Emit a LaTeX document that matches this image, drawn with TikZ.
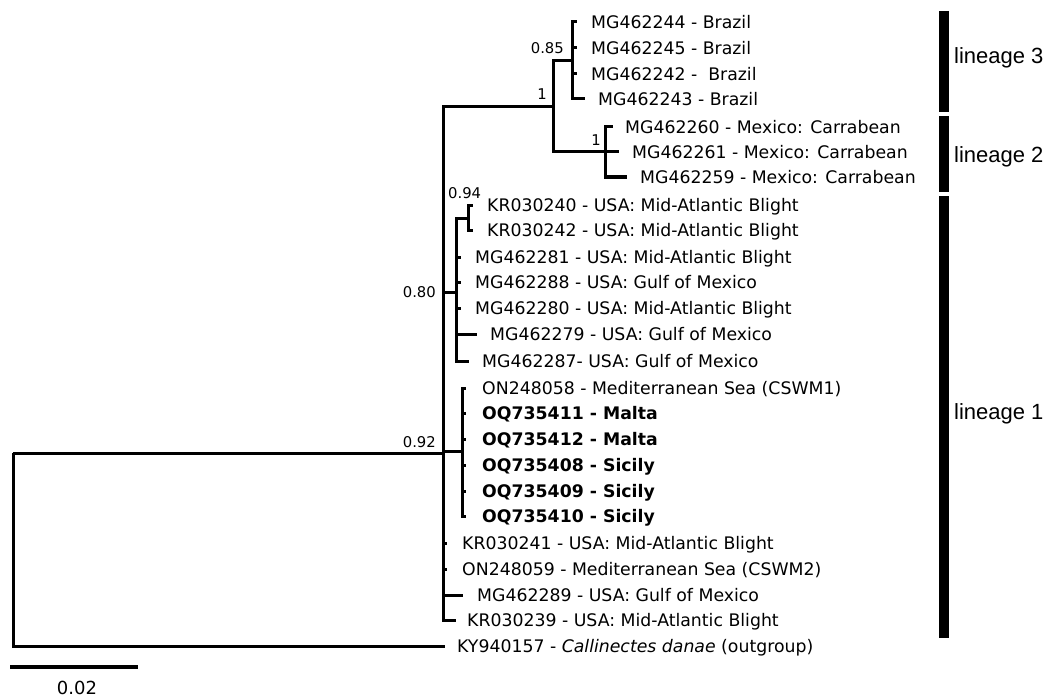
\documentclass[tikz,border=0pt]{standalone}
\usepackage{fontspec}
\setmainfont{DejaVu Sans}
\newfontfamily\arialf{Liberation Sans}
\begin{document}
\begin{tikzpicture}[x=1pt,y=-1pt,
  br/.style={line width=3pt,line join=miter,line cap=butt},
  leaflab/.style={anchor=west,inner sep=0pt,font=\fontsize{17.3}{20}\selectfont,text height=12.6pt,text depth=0pt},
  supp/.style={inner sep=0pt,font=\fontsize{14.8}{17}\selectfont,text height=10.8pt,text depth=0pt},
  linbar/.style={line width=10pt},
  linlab/.style={anchor=west,inner sep=0pt,font=\arialf\fontsize{22}{26}\selectfont,text height=15.8pt,text depth=0pt}]
\path[use as bounding box] (0,0) rectangle (1047,698);
\newcommand\tipleaf[6]{%
  \coordinate (#1) at (#4,#3);
  \node[leaflab] (#1l) at (#5,#3) {#6};
  \draw[br] (#2) |- (#1);}
% internal nodes
\coordinate (root) at (13,453);
\coordinate (n092) at (443,453);
\coordinate (nA) at (553,107);
\coordinate (nL3) at (572,61);
\coordinate (nL2) at (605,152);
\coordinate (n080) at (456,292);
\coordinate (n094) at (468,218);
\coordinate (nMed) at (462,451);
\coordinate (og) at (445,646);
% internal branches
\draw[br] (root) -- (n092);
\draw[br] (root) |- (og);
\draw[br] (n092) |- (nA);
\draw[br] (nA) |- (nL3);
\draw[br] (nA) |- (nL2);
\draw[br] (n092) |- (n080);
\draw[br] (n080) |- (n094);
\draw[br] (n092) |- (nMed);
% lineage 3
\tipleaf{t1}{nL3}{22}{577}{591}{MG462244 - Brazil}
\tipleaf{t2}{nL3}{48}{577}{591}{MG462245 - Brazil}
\tipleaf{t3}{nL3}{74}{577}{591}{MG462242 - ~Brazil}
\tipleaf{t4}{nL3}{99}{585}{598}{MG462243 - Brazil}
% lineage 2
\tipleaf{t5}{nL2}{127}{613}{625}{MG462260 - Mexico: Carrabean}
\tipleaf{t6}{nL2}{152}{619}{632}{MG462261 - Mexico: Carrabean}
\tipleaf{t7}{nL2}{177}{627}{640}{MG462259 - Mexico: Carrabean}
% 0.80 clade
\tipleaf{t8}{n094}{205}{473}{487}{KR030240 - USA: Mid-Atlantic Blight}
\tipleaf{t9}{n094}{230}{473}{487}{KR030242 - USA: Mid-Atlantic Blight}
\tipleaf{t10}{n080}{257}{461}{475}{MG462281 - USA: Mid-Atlantic Blight}
\tipleaf{t11}{n080}{282}{461}{475}{MG462288 - USA: Gulf of Mexico}
\tipleaf{t12}{n080}{308}{461}{475}{MG462280 - USA: Mid-Atlantic Blight}
\tipleaf{t13}{n080}{334}{477}{490}{MG462279 - USA: Gulf of Mexico}
\tipleaf{t14}{n080}{361}{469}{482}{MG462287- USA: Gulf of Mexico}
% Mediterranean clade
\tipleaf{t15}{nMed}{388}{466}{482}{ON248058 - Mediterranean Sea (CSWM1)}
\tipleaf{t16}{nMed}{413}{466}{482}{\textbf{OQ735411 - Malta}}
\tipleaf{t17}{nMed}{439}{466}{482}{\textbf{OQ735412 - Malta}}
\tipleaf{t18}{nMed}{465}{466}{482}{\textbf{OQ735408 - Sicily}}
\tipleaf{t19}{nMed}{491}{466}{482}{\textbf{OQ735409 - Sicily}}
\tipleaf{t20}{nMed}{516}{466}{482}{\textbf{OQ735410 - Sicily}}
% direct leaves
\tipleaf{t21}{n092}{543}{447}{462}{KR030241 - USA: Mid-Atlantic Blight}
\tipleaf{t22}{n092}{569}{447}{462}{ON248059 - Mediterranean Sea (CSWM2)}
\tipleaf{t23}{n092}{595}{463}{477}{MG462289 - USA: Gulf of Mexico}
\tipleaf{t24}{n092}{620}{456}{467}{KR030239 - USA: Mid-Atlantic Blight}
\node[leaflab] (ogl) at (457,646) {KY940157 - \textit{Callinectes danae} (outgroup)};
% support values
\node[supp,anchor=east] (s085) at (564,48) {0.85};
\node[supp,anchor=east] (s1a) at (547,94) {1};
\node[supp,anchor=east] (s1b) at (601,140) {1};
\node[supp,anchor=west] (s094) at (448,193) {0.94};
\node[supp,anchor=east] (s080) at (436,292) {0.80};
\node[supp,anchor=east] (s092) at (436,442) {0.92};
% scale bar
\coordinate (sb1) at (10,667);
\coordinate (sb2) at (138,667);
\draw[line width=4pt] (sb1) -- (sb2);
\node[inner sep=0pt,font=\fontsize{18}{20}\selectfont,text height=13pt,text depth=0pt] (sbl) at (77,688) {0.02};
% lineage bars
\coordinate (b3a) at (944,11); \coordinate (b3b) at (944,112);
\coordinate (b2a) at (944,116); \coordinate (b2b) at (944,192);
\coordinate (b1a) at (944,196); \coordinate (b1b) at (944,638);
\draw[linbar] (b3a) -- (b3b);
\draw[linbar] (b2a) -- (b2b);
\draw[linbar] (b1a) -- (b1b);
\node[linlab] (lin3) at (954,56) {lineage 3};
\node[linlab] (lin2) at (954,155) {lineage 2};
\node[linlab] (lin1) at (954,412) {lineage 1};
\end{tikzpicture}
\end{document}
